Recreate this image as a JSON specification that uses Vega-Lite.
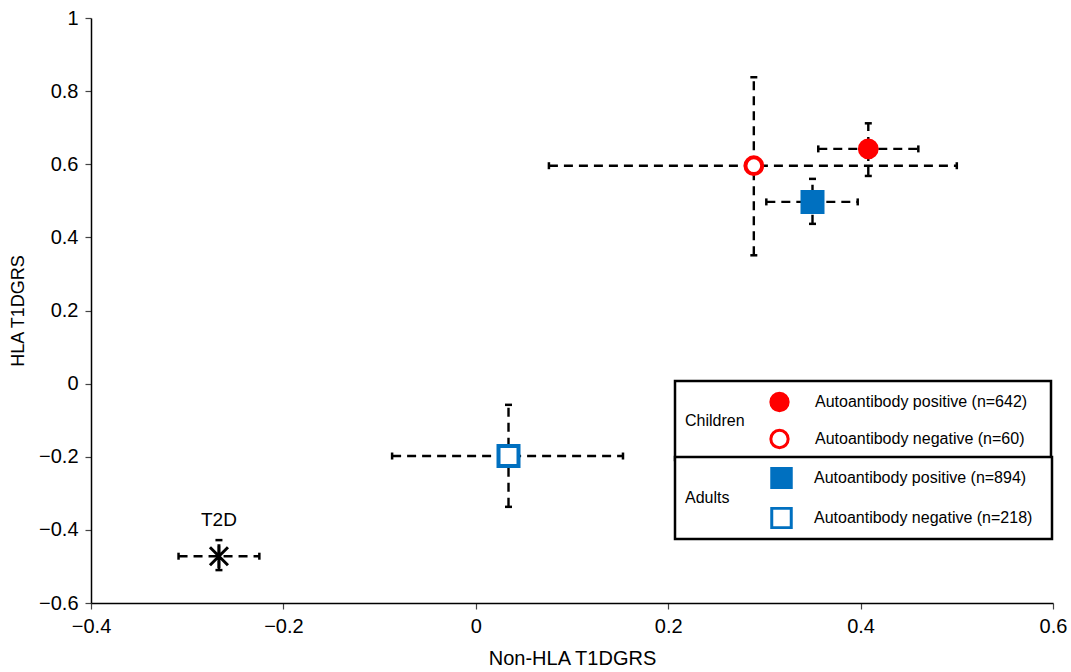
{
  "$schema": "https://vega.github.io/schema/vega-lite/v6.json",
  "width": 962,
  "height": 585,
  "autosize": {"type": "none"},
  "padding": {"left": 91, "top": 18, "right": 18, "bottom": 69},
  "background": "white",
  "config": {
    "font": "Liberation Sans",
    "view": {"stroke": null},
    "axis": {
      "grid": false,
      "domainColor": "black",
      "domainWidth": 1.5,
      "tickColor": "#444444",
      "tickSize": 6,
      "tickWidth": 1.2,
      "labelColor": "black",
      "labelFontSize": 20,
      "titleFontSize": 20,
      "titleFontWeight": "normal",
      "titleColor": "black",
      "labelFont": "Liberation Sans",
      "titleFont": "Liberation Sans",
      "labelFlush": false
    },
    "legend": {
      "orient": "none",
      "direction": "vertical",
      "strokeColor": "black",
      "strokeWidth": 2.5,
      "fillColor": "white",
      "padding": 10,
      "clipHeight": 22,
      "titleOrient": "left",
      "titleAnchor": "middle",
      "titleBaseline": "middle",
      "titleFont": "Liberation Sans",
      "titleFontSize": 16,
      "titleFontWeight": "normal",
      "titleColor": "black",
      "labelFont": "Liberation Sans",
      "labelFontSize": 16,
      "labelColor": "black",
      "labelLimit": 400,
      "symbolStrokeWidth": 3
    }
  },
  "data": {
    "values": [
      {"group": "Children", "label": "Autoantibody positive (n=642)", "x": 0.408, "y": 0.642, "xlo": 0.356, "xhi": 0.460, "ylo": 0.568, "yhi": 0.712},
      {"group": "Children", "label": "Autoantibody negative (n=60)", "x": 0.289, "y": 0.596, "xlo": 0.076, "xhi": 0.500, "ylo": 0.351, "yhi": 0.838},
      {"group": "Adults", "label": "Autoantibody positive (n=894)", "x": 0.350, "y": 0.497, "xlo": 0.302, "xhi": 0.397, "ylo": 0.437, "yhi": 0.560},
      {"group": "Adults", "label": "Autoantibody negative (n=218)", "x": 0.034, "y": -0.198, "xlo": -0.087, "xhi": 0.153, "ylo": -0.337, "yhi": -0.058},
      {"group": "T2D", "label": "T2D", "x": -0.267, "y": -0.472, "xlo": -0.309, "xhi": -0.225, "ylo": -0.510, "yhi": -0.428}
    ]
  },
  "layer": [
    {
      "mark": {"type": "rule", "strokeDash": [9, 6], "strokeWidth": 2.4, "color": "black"},
      "encoding": {
        "x": {"field": "xlo", "type": "quantitative", "title": "Non-HLA T1DGRS",
          "scale": {"domain": [-0.4, 0.6], "nice": false, "zero": false},
          "axis": {"values": [-0.4, -0.2, 0, 0.2, 0.4, 0.6], "format": "~g", "labelPadding": 7, "titlePadding": 12}},
        "x2": {"field": "xhi"},
        "y": {"field": "y", "type": "quantitative", "title": "HLA T1DGRS",
          "scale": {"domain": [-0.6, 1], "nice": false, "zero": false},
          "axis": {"values": [-0.6, -0.4, -0.2, 0, 0.2, 0.4, 0.6, 0.8, 1], "format": "~g", "labelPadding": 7, "titlePadding": 11, "titleFontSize": 18}}
      }
    },
    {
      "mark": {"type": "rule", "strokeDash": [9, 6], "strokeWidth": 2.4, "color": "black"},
      "encoding": {
        "x": {"field": "x", "type": "quantitative", "title": "Non-HLA T1DGRS"},
        "y": {"field": "ylo", "type": "quantitative", "title": "HLA T1DGRS"},
        "y2": {"field": "yhi"}
      }
    },
    {
      "transform": [{"fold": ["xlo", "xhi"], "as": ["end", "xc"]}],
      "mark": {"type": "point", "shape": "M0,-1L0,1", "size": 49, "filled": false, "stroke": "black", "strokeWidth": 2.5, "opacity": 1},
      "encoding": {
        "x": {"field": "xc", "type": "quantitative", "title": "Non-HLA T1DGRS"},
        "y": {"field": "y", "type": "quantitative", "title": "HLA T1DGRS"}
      }
    },
    {
      "transform": [{"fold": ["ylo", "yhi"], "as": ["end", "yc"]}],
      "mark": {"type": "point", "shape": "M-1,0L1,0", "size": 49, "filled": false, "stroke": "black", "strokeWidth": 2.5, "opacity": 1},
      "encoding": {
        "x": {"field": "x", "type": "quantitative", "title": "Non-HLA T1DGRS"},
        "y": {"field": "yc", "type": "quantitative", "title": "HLA T1DGRS"}
      }
    },
    {
      "transform": [{"filter": "datum.group == 'Children'"}],
      "mark": {"type": "point", "filled": true, "size": 280, "strokeWidth": 4, "opacity": 1},
      "encoding": {
        "x": {"field": "x", "type": "quantitative", "title": "Non-HLA T1DGRS"},
        "y": {"field": "y", "type": "quantitative", "title": "HLA T1DGRS"},
        "shape": {"field": "label", "type": "nominal", "title": "Children",
          "scale": {"domain": ["Autoantibody positive (n=642)", "Autoantibody negative (n=60)"], "range": ["circle", "circle"]},
          "legend": {"legendX": 584, "legendY": 363, "symbolSize": 300, "rowPadding": 15, "titlePadding": 24, "labelOffset": 25, "labelExpr": "datum.label + '\u00a0\u00a0\u00a0\u200b'", "encode": {"title": {"update": {"dx": {"value": 8}}}}}},
        "fill": {"field": "label", "type": "nominal", "title": "Children",
          "scale": {"domain": ["Autoantibody positive (n=642)", "Autoantibody negative (n=60)"], "range": ["#ff0000", "#ffffff"]},
          "legend": {"legendX": 584, "legendY": 363, "symbolSize": 300, "rowPadding": 15, "titlePadding": 24, "labelOffset": 25, "labelExpr": "datum.label + '\u00a0\u00a0\u00a0\u200b'", "encode": {"title": {"update": {"dx": {"value": 8}}}}}},
        "stroke": {"field": "label", "type": "nominal", "title": "Children",
          "scale": {"domain": ["Autoantibody positive (n=642)", "Autoantibody negative (n=60)"], "range": ["#ff0000", "#ff0000"]},
          "legend": {"legendX": 584, "legendY": 363, "symbolSize": 300, "rowPadding": 15, "titlePadding": 24, "labelOffset": 25, "labelExpr": "datum.label + '\u00a0\u00a0\u00a0\u200b'", "encode": {"title": {"update": {"dx": {"value": 8}}}}}}
      }
    },
    {
      "transform": [{"filter": "datum.group == 'Adults'"}],
      "mark": {"type": "point", "filled": true, "size": 400, "strokeWidth": 4, "opacity": 1},
      "encoding": {
        "x": {"field": "x", "type": "quantitative", "title": "Non-HLA T1DGRS"},
        "y": {"field": "y", "type": "quantitative", "title": "HLA T1DGRS"},
        "shape": {"field": "label", "type": "nominal", "title": "Adults",
          "scale": {"domain": ["Autoantibody positive (n=894)", "Autoantibody negative (n=218)"], "range": ["square", "square"]},
          "legend": {"legendX": 584, "legendY": 439, "symbolSize": 380, "rowPadding": 18, "titlePadding": 40, "labelOffset": 21, "labelExpr": "datum.label + '\u00a0\u00a0\u200b'", "encode": {"title": {"update": {"dx": {"value": 8}}}}}},
        "fill": {"field": "label", "type": "nominal", "title": "Adults",
          "scale": {"domain": ["Autoantibody positive (n=894)", "Autoantibody negative (n=218)"], "range": ["#0070c0", "#ffffff"]},
          "legend": {"legendX": 584, "legendY": 439, "symbolSize": 380, "rowPadding": 18, "titlePadding": 40, "labelOffset": 21, "labelExpr": "datum.label + '\u00a0\u00a0\u200b'", "encode": {"title": {"update": {"dx": {"value": 8}}}}}},
        "stroke": {"field": "label", "type": "nominal", "title": "Adults",
          "scale": {"domain": ["Autoantibody positive (n=894)", "Autoantibody negative (n=218)"], "range": ["#0070c0", "#0070c0"]},
          "legend": {"legendX": 584, "legendY": 439, "symbolSize": 380, "rowPadding": 18, "titlePadding": 40, "labelOffset": 21, "labelExpr": "datum.label + '\u00a0\u00a0\u200b'", "encode": {"title": {"update": {"dx": {"value": 8}}}}}}
      }
    },
    {
      "transform": [{"filter": "datum.group == 'T2D'"}],
      "mark": {"type": "point", "shape": "M-0.75,-0.75L0.75,0.75M-0.75,0.75L0.75,-0.75M0,-1L0,1", "size": 576, "filled": false, "stroke": "black", "strokeWidth": 3, "opacity": 1},
      "encoding": {
        "x": {"field": "x", "type": "quantitative", "title": "Non-HLA T1DGRS"},
        "y": {"field": "y", "type": "quantitative", "title": "HLA T1DGRS"}
      }
    },
    {
      "transform": [{"filter": "datum.group == 'T2D'"}],
      "mark": {"type": "text", "dy": -36, "fontSize": 19, "baseline": "middle", "align": "center", "color": "black", "font": "Liberation Sans"},
      "encoding": {
        "x": {"field": "x", "type": "quantitative", "title": "Non-HLA T1DGRS"},
        "y": {"field": "y", "type": "quantitative", "title": "HLA T1DGRS"},
        "text": {"field": "label"}
      }
    }
  ],
  "resolve": {"scale": {"shape": "independent", "fill": "independent", "stroke": "independent"}}
}
